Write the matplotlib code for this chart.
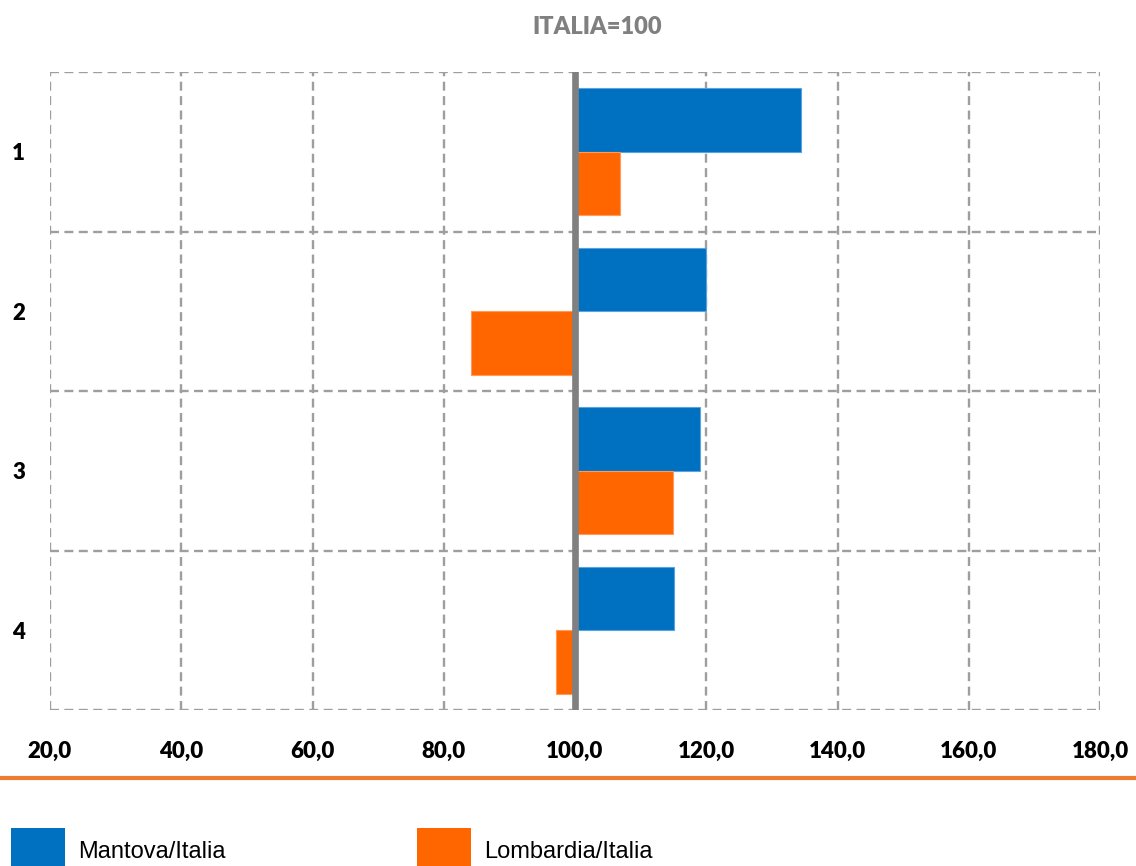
import matplotlib
matplotlib.use("Agg")
import matplotlib.pyplot as plt
from matplotlib.patches import Rectangle
from matplotlib.lines import Line2D

categories = ["1", "2", "3", "4"]
mantova = [134.4, 120.0, 119.1, 115.1]
lombardia = [106.8, 84.1, 115.0, 97.1]
series_names = ["Mantova/Italia", "Lombardia/Italia"]
xticks = [20, 40, 60, 80, 100, 120, 140, 160, 180]
title = "ITALIA=100"
base = 100

W, H = 1136, 866
fig = plt.figure(figsize=(W / 100, H / 100), dpi=100)
ax = fig.add_axes([50 / W, 1 - 710 / H, 1050 / W, 638 / H])

blue = "#0070C0"
orange = "#FF6600"
bh = 0.397
pos = list(range(len(categories)))
ax.barh([p - bh / 2 for p in pos], [v - base for v in mantova], left=base,
        height=bh, color=blue, edgecolor="#5BA3E0", linewidth=0.8, zorder=3)
ax.barh([p + bh / 2 for p in pos], [v - base for v in lombardia], left=base,
        height=bh, color=orange, edgecolor="#FF9A5C", linewidth=0.8, zorder=3)

ax.set_xlim(20, 180)
ax.set_ylim(len(categories) - 0.5, -0.5)
ax.axvline(base, color="#808080", linewidth=4.8, zorder=4)

grid_kw = dict(color="#9E9E9E", linewidth=1.7, linestyle=(0, (3.8, 2.3)), zorder=1)
for x in xticks:
    ax.axvline(x, **grid_kw)
for y in [p - 0.5 for p in pos] + [len(categories) - 0.5]:
    ax.axhline(y, **grid_kw)
for s in ax.spines.values():
    s.set_visible(False)

ax.set_xticks(xticks)
ax.set_xticklabels([f"{t:.1f}".replace(".", ",") for t in xticks],
                   fontfamily="Lato", fontweight="heavy", fontsize=16)
ax.set_yticks(pos)
ax.set_yticklabels(categories, fontfamily="Lato", fontweight="heavy", fontsize=16)
ax.tick_params(axis="x", length=0, pad=22)
ax.tick_params(axis="y", length=0, pad=18)

fig.text(597 / W, 1 - 27 / H, title, ha="center", va="center",
         fontfamily="Lato", fontweight="heavy", fontsize=17, color="#808080")

fig.add_artist(Line2D([0, 1], [1 - 778 / H, 1 - 778 / H], transform=fig.transFigure,
                      color="#ED7D31", linewidth=3))

for x0, col, name in [(11, blue, series_names[0]), (417, orange, series_names[1])]:
    fig.add_artist(Rectangle((x0 / W, 0), 54 / W, 38 / H, transform=fig.transFigure,
                             facecolor=col, edgecolor="none"))
    fig.text((x0 + 67) / W, 1 - 852 / H, name, ha="left", va="center",
             fontfamily="Liberation Sans", fontsize=17, color="black")

fig.savefig("out.png", dpi=100)
